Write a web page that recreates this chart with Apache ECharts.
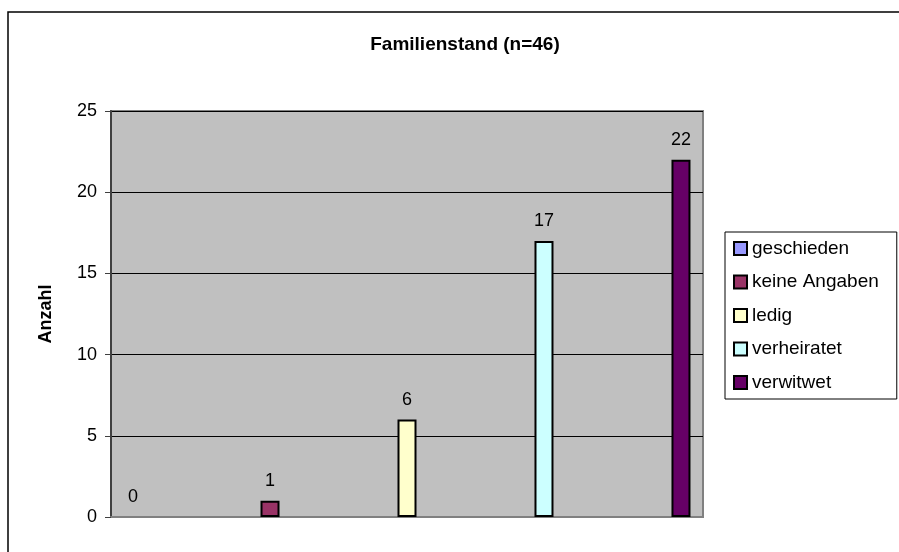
<!DOCTYPE html>
<html>
<head>
<meta charset="utf-8">
<script src="https://cdn.jsdelivr.net/npm/echarts@6/dist/echarts.min.js"></script>
<style>
  html, body { margin: 0; padding: 0; background: #fff; }
  #chart { width: 899px; height: 552px; }
</style>
</head>
<body>
<div id="chart"></div>
<script>
// Familienstand (n=46)
const kategorien = ['geschieden', 'keine Angaben', 'ledig', 'verheiratet', 'verwitwet'];
const anzahl = [0, 1, 6, 17, 22];
const farben = ['#9999FF', '#993366', '#FFFFCC', '#CCFFFF', '#660066'];
const yTicks = { min: 0, max: 25, interval: 5 };

const font = 'Liberation Sans, Arial, sans-serif';

const chart = echarts.init(document.getElementById('chart'));

// jede Kategorie als eigene Serie, damit die Legende wie im Excel-Original aussieht
const series = kategorien.map((name, i) => ({
  name: name,
  type: 'bar',
  data: [anzahl[i]],
  barWidth: 19,
  barGap: '621%',
  itemStyle: {
    color: farben[i],
    borderColor: '#000',
    borderWidth: anzahl[i] === 0 ? 0 : 2
  },
  label: {
    show: true,
    position: 'top',
    distance: 11,
    color: '#000',
    fontFamily: font,
    fontSize: 18
  }
}));

chart.setOption({
  backgroundColor: '#fff',
  animation: false,
  title: {
    text: 'Familienstand (n=46)',
    left: 460,
    top: 30,
    textAlign: 'center',
    textStyle: { fontFamily: font, fontSize: 19, fontWeight: 'bold', color: '#000' }
  },
  graphic: [{
    type: 'rect',
    shape: { x: 8, y: 12, width: 1000, height: 1000 },
    style: { fill: 'none', stroke: '#000', lineWidth: 1.5 },
    silent: true,
    z: -1
  }],
  legend: {
    orient: 'vertical',
    left: 725,
    top: 232,
    padding: [7, 18, 7, 8],
    itemGap: 14.5,
    itemWidth: 13,
    itemHeight: 13,
    icon: 'rect',
    borderColor: '#000',
    borderWidth: 1,
    itemStyle: { borderColor: '#000', borderWidth: 2 },
    textStyle: { fontFamily: font, fontSize: 19, color: '#000', lineHeight: 19 },
    data: kategorien
  },
  grid: {
    left: 111,
    top: 111,
    right: 196,
    bottom: 35,
    show: true,
    backgroundColor: '#C0C0C0',
    borderColor: '#808080',
    borderWidth: 2
  },
  xAxis: {
    type: 'category',
    data: [''],
    axisLine: { lineStyle: { color: '#808080', width: 2 } },
    axisTick: { show: false },
    axisLabel: { show: false }
  },
  yAxis: {
    type: 'value',
    min: yTicks.min,
    max: yTicks.max,
    interval: yTicks.interval,
    name: 'Anzahl',
    nameLocation: 'middle',
    nameGap: 56,
    nameTextStyle: { fontFamily: font, fontSize: 18, fontWeight: 'bold', color: '#000' },
    axisLine: { show: true, lineStyle: { color: '#404040', width: 2 } },
    axisTick: { show: true, length: 6, lineStyle: { color: '#404040' } },
    axisLabel: { fontFamily: font, fontSize: 18, color: '#000', margin: 14 },
    splitLine: { lineStyle: { color: '#000', width: 1 } }
  },
  series: series
});
</script>
</body>
</html>
